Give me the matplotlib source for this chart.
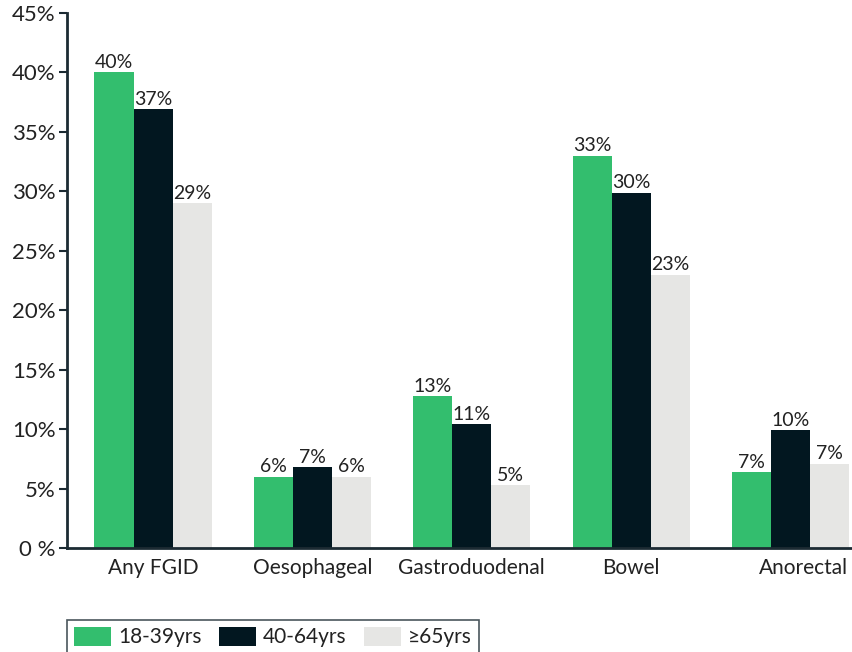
import numpy as np
import matplotlib
matplotlib.use("Agg")
import matplotlib.pyplot as plt
from matplotlib.transforms import ScaledTranslation

plt.rcParams['font.family'] = ['Lato', 'DejaVu Sans']

categories = ['Any FGID', 'Oesophageal', 'Gastroduodenal', 'Bowel', 'Anorectal']
series_names = ['18-39yrs', '40-64yrs', '\u226565yrs']
young = [40.0, 6.0, 12.8, 33.0, 6.4]
middle = [36.9, 6.8, 10.4, 29.9, 9.9]
older = [29.0, 6.0, 5.3, 23.0, 7.1]
young_lbl = ['40%', '6%', '13%', '33%', '7%']
middle_lbl = ['37%', '7%', '11%', '30%', '10%']
older_lbl = ['29%', '6%', '5%', '23%', '7%']
yticks = [0, 5, 10, 15, 20, 25, 30, 35, 40, 45]
ytick_labels = ['0 %', '5%', '10%', '15%', '20%', '25%', '30%', '35%', '40%', '45%']

colors = ['#33BE6E', '#021720', '#E6E6E4']
axis_col = '#1C2B33'
text_col = '#222222'

fig = plt.figure(figsize=(8.52, 6.52), dpi=100)
ax = fig.add_axes([67 / 852, 104 / 652, 784 / 852, 535 / 652])

x = np.arange(len(categories))
w = 0.245
for i, (vals, lbls) in enumerate(zip([young, middle, older],
                                     [young_lbl, middle_lbl, older_lbl])):
    bars = ax.bar(x + (i - 1) * w, vals, w, color=colors[i],
                  label=series_names[i], zorder=2)
    for b, t in zip(bars, lbls):
        ax.text(b.get_x() + b.get_width() / 2, b.get_height() + 0.1, t,
                ha='center', va='bottom', fontsize=14, color=text_col)

ax.set_xlim(-0.54, 4.38)
ax.set_ylim(0, 45)
ax.set_yticks(yticks)
ax.set_yticklabels(ytick_labels)
ax.set_xticks(x)
ax.set_xticklabels(categories)
ax.tick_params(axis='y', labelsize=16, colors=axis_col, labelcolor=text_col,
               length=6, width=1.5, direction='out', pad=2)
ax.tick_params(axis='x', labelsize=15, length=0, labelcolor=text_col, pad=7)
# the last category label sits a little right of its bars in the original
lab = ax.get_xticklabels()[-1]
lab.set_transform(lab.get_transform() + ScaledTranslation(0.13, 0, fig.dpi_scale_trans))

for s in ['top', 'right']:
    ax.spines[s].set_visible(False)
for s in ['left', 'bottom']:
    ax.spines[s].set_color(axis_col)
    ax.spines[s].set_linewidth(2)

leg = fig.legend(loc='lower left', bbox_to_anchor=(67 / 852, -0.004), ncol=3,
                 fontsize=15, frameon=True, fancybox=False,
                 handlelength=1.75, handleheight=1.0, handletextpad=0.35,
                 columnspacing=0.85, borderpad=0.35, borderaxespad=0)
leg.get_frame().set_edgecolor(axis_col)
leg.get_frame().set_linewidth(1.2)
for t in leg.get_texts():
    t.set_color(text_col)

fig.savefig('out.png', dpi=100)
